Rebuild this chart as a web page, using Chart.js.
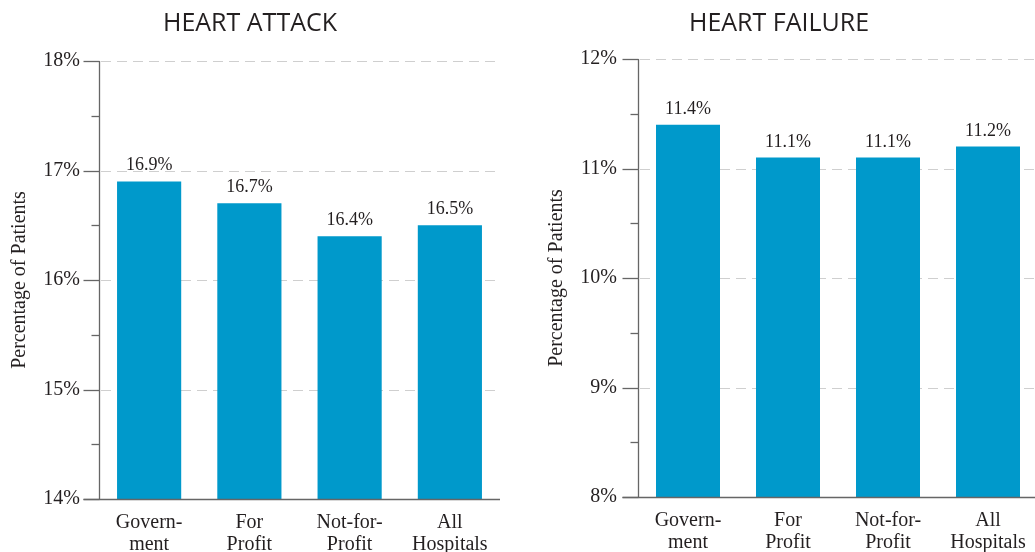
<!DOCTYPE html>
<html>
<head>
<meta charset="utf-8">
<script src="https://cdn.jsdelivr.net/npm/chart.js@4.4.1/dist/chart.umd.min.js"></script>
<style>
  html, body { margin: 0; padding: 0; background: #fff; overflow: hidden; }
  #wrap { position: relative; width: 1035px; height: 552px; overflow: hidden; }
  .box { position: absolute; top: 0; height: 552px; }
</style>
</head>
<body>
<div id="wrap">
  <div class="box" style="left:0;width:520px;"><canvas id="c1" width="520" height="552"></canvas></div>
  <div class="box" style="left:520px;width:540px;"><canvas id="c2" width="540" height="552"></canvas></div>
</div>
<script>
const categories = [["Govern-", "ment"], ["For", "Profit"], ["Not-for-", "Profit"], ["All", "Hospitals"]];
const heartAttackValues = [16.9, 16.7, 16.4, 16.5];
const heartFailureValues = [11.4, 11.1, 11.1, 11.2];
const heartAttackRange = [14, 18];
const heartFailureRange = [8, 12];
const titles = ["HEART ATTACK", "HEART FAILURE"];
const yAxisTitle = "Percentage of Patients";

const SERIF = "'Liberation Serif', 'Times New Roman', serif";
const BAR = "#0099cb";
const TEXT = "#231f20";
const AXIS = "#666666";
const GRID = "#cfcfcf";

const axisPlugin = {
  id: 'axisPlugin',
  beforeDatasetsDraw(chart) {
    const ctx = chart.ctx;
    const y = chart.scales.y;
    const a = chart.chartArea;
    ctx.save();
    ctx.strokeStyle = GRID;
    ctx.lineWidth = 1;
    ctx.setLineDash([10, 6]);
    y.ticks.forEach(t => {
      if (Number.isInteger(t.value) && t.value !== y.min) {
        const py = Math.round(y.getPixelForValue(t.value)) + 0.5;
        ctx.beginPath(); ctx.moveTo(a.left + 2, py); ctx.lineTo(a.right, py); ctx.stroke();
      }
    });
    ctx.restore();
  },
  afterDatasetsDraw(chart) {
    const ctx = chart.ctx;
    const y = chart.scales.y;
    const a = chart.chartArea;
    ctx.save();
    ctx.strokeStyle = AXIS;
    ctx.lineWidth = 1.3;
    const ax = Math.round(a.left) + 0.5;
    ctx.beginPath(); ctx.moveTo(ax, a.top); ctx.lineTo(ax, a.bottom); ctx.stroke();
    y.ticks.forEach(t => {
      const py = Math.round(y.getPixelForValue(t.value)) + 0.5;
      const len = Number.isInteger(t.value) ? 16 : 8;
      ctx.beginPath(); ctx.moveTo(ax - len, py); ctx.lineTo(ax, py); ctx.stroke();
    });
    const by = Math.round(a.bottom) + 0.5;
    ctx.beginPath(); ctx.moveTo(ax - 16, by); ctx.lineTo(a.right, by); ctx.stroke();
    ctx.fillStyle = TEXT;
    ctx.font = "18px " + SERIF;
    ctx.textAlign = 'center';
    ctx.textBaseline = 'alphabetic';
    const meta = chart.getDatasetMeta(0);
    const data = chart.data.datasets[0].data;
    meta.data.forEach((bar, i) => {
      ctx.fillText(data[i].toFixed(1) + '%', bar.x, bar.y - 11);
    });
    ctx.restore();
  }
};

function makeChart(id, values, range, title, opts) {
  return new Chart(document.getElementById(id), {
    type: 'bar',
    data: {
      labels: categories,
      datasets: [{
        data: values,
        backgroundColor: BAR,
        borderWidth: 0,
        barPercentage: 0.64,
        categoryPercentage: 1.0
      }]
    },
    options: {
      responsive: false,
      animation: false,
      events: [],
      layout: { padding: { top: 0, right: opts.padRight, bottom: 0, left: 0 } },
      plugins: {
        legend: { display: false },
        tooltip: { enabled: false },
        title: {
          display: true,
          text: title,
          color: TEXT,
          font: { family: "'Open Sans', sans-serif", size: 25, weight: '400', lineHeight: 1.2 },
          padding: { top: opts.titleTop, bottom: opts.titleBottom },
          align: 'center'
        }
      },
      scales: {
        x: {
          grid: { display: false, drawTicks: false },
          border: { display: false },
          ticks: {
            color: TEXT,
            font: { family: SERIF, size: 20, lineHeight: 1.1 },
            padding: 13,
            maxRotation: 0,
            autoSkip: false
          },
          afterFit(scale) { scale.height = opts.xHeight; }
        },
        y: {
          min: range[0],
          max: range[1],
          grid: { display: false, drawTicks: false },
          border: { display: false },
          ticks: {
            stepSize: 0.5,
            color: TEXT,
            font: { family: SERIF, size: 20 },
            padding: opts.tickPad,
            callback: v => Number.isInteger(v) ? v + '%' : ''
          },
          title: {
            display: true,
            text: yAxisTitle,
            color: TEXT,
            font: { family: SERIF, size: 20, lineHeight: 1.2 },
            padding: { top: opts.yTitlePad, bottom: 0 }
          },
          afterFit(scale) { scale.width = opts.yWidth; }
        }
      }
    },
    plugins: [axisPlugin]
  });
}

makeChart('c1', heartAttackValues, heartAttackRange, titles[0], {
  padRight: 20, titleTop: 9, titleBottom: 22, xHeight: 53, tickPad: 19, yTitlePad: 8, yWidth: 99
});
makeChart('c2', heartFailureValues, heartFailureRange, titles[1], {
  padRight: 22, titleTop: 9, titleBottom: 20, xHeight: 55, tickPad: 21, yTitlePad: 25, yWidth: 118
});
</script>
</body>
</html>
